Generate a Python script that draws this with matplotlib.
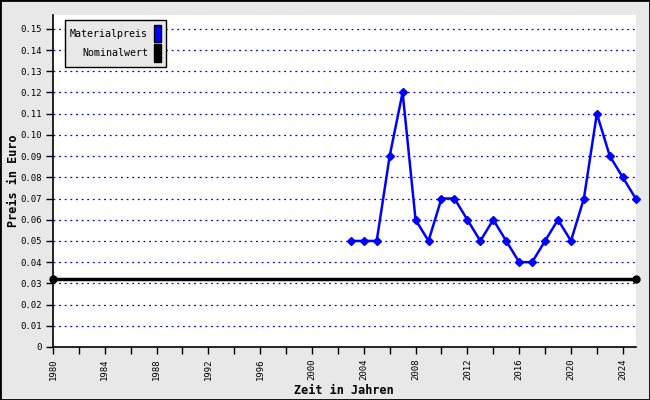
import matplotlib
matplotlib.use("Agg")
import matplotlib.pyplot as plt
import matplotlib.patches as patches
from matplotlib.ticker import MultipleLocator

# --- Data
years = [2003, 2004, 2005, 2006, 2007, 2008, 2009, 2010, 2011, 2012, 2013, 2014,
         2015, 2016, 2017, 2018, 2019, 2020, 2021, 2022, 2023, 2024, 2025]
material = [0.05, 0.05, 0.05, 0.09, 0.12, 0.06, 0.05, 0.07, 0.07, 0.06, 0.05, 0.06,
            0.05, 0.04, 0.04, 0.05, 0.06, 0.05, 0.07, 0.11, 0.09, 0.08, 0.07]
nominal_years = [1980, 2025]
nominal = [0.032, 0.032]
y_ticks = [i / 100 for i in range(16)]
y_labels = ["0"] + [f"{v:.2f}" for v in y_ticks[1:]]
x_ticks = list(range(1980, 2025, 4))

plt.rcParams['font.family'] = ['DejaVu Sans Mono']

fig = plt.figure(figsize=(6.5, 4), dpi=100, facecolor='#e8e8e8')
fig.patches.append(patches.Rectangle((0, 0), 1, 1, transform=fig.transFigure,
                                     fill=False, edgecolor='black', linewidth=2))
ax = fig.add_axes([0.0815, 0.1325, 0.8965, 0.83])
ax.set_facecolor('white')

# horizontal dotted grid
for v in y_ticks[1:]:
    ax.axhline(v, color='blue', linestyle=(0, (1.5, 3)), linewidth=0.9, zorder=1)

ax.plot(nominal_years, nominal, color='black', linewidth=2.5, marker='o',
        markersize=5, zorder=3, clip_on=False)
ax.plot(years, material, color='blue', linewidth=1.8, marker='D',
        markersize=4, zorder=4, clip_on=False)

ax.set_xlim(1980, 2025)
ax.set_ylim(0, 0.1565)
ax.set_yticks(y_ticks)
ax.set_yticklabels(y_labels, fontsize=6.5)
ax.set_xticks(x_ticks)
ax.set_xticklabels([str(x) for x in x_ticks], rotation=90, fontsize=6.5)
ax.xaxis.set_minor_locator(MultipleLocator(2))
ax.tick_params(axis='both', which='both', direction='out', length=5, width=1, colors='black')
ax.tick_params(axis='y', pad=3)

for s in ['top', 'right']:
    ax.spines[s].set_visible(False)
for s in ['left', 'bottom']:
    ax.spines[s].set_linewidth(1.2)

ax.set_ylabel("Preis in Euro", fontsize=8.5, fontweight='bold')
ax.yaxis.set_label_coords(-0.057, 0.5)
ax.set_xlabel("Zeit in Jahren", fontsize=8.5, fontweight='bold', labelpad=3)

# --- Legend
handles = [patches.Patch(facecolor='blue', edgecolor='black', label='Materialpreis'),
           patches.Patch(facecolor='black', edgecolor='black', label='Nominalwert')]
leg = ax.legend(handles=handles, loc='upper left', bbox_to_anchor=(0.0206, 0.985),
                borderaxespad=0, markerfirst=False, handlelength=0.7, handleheight=2.3,
                handletextpad=0.6, labelspacing=0.2, fontsize=7.2, fancybox=False,
                frameon=True, borderpad=0.5)
leg.get_frame().set_facecolor('#e8e8e8')
leg.get_frame().set_edgecolor('black')
leg.get_frame().set_alpha(1)
leg.get_frame().set_linewidth(1)

fig.savefig("out.png", dpi=100, facecolor=fig.get_facecolor())
